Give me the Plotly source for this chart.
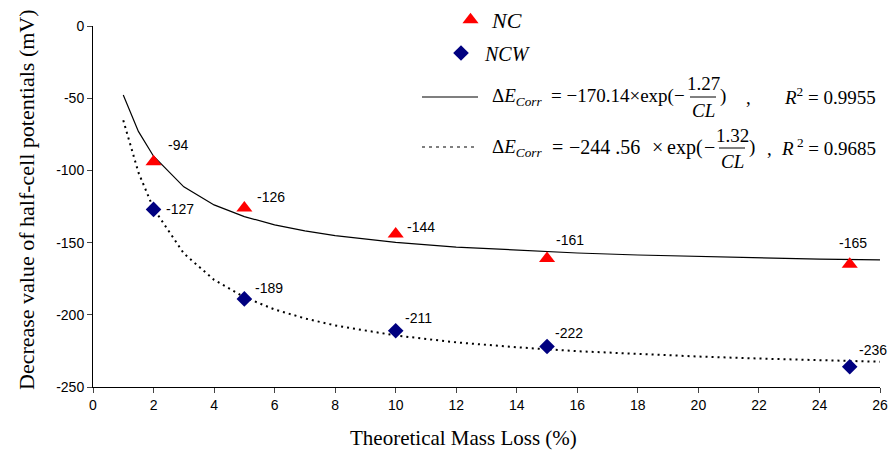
import plotly.graph_objects as go

# ---- data ----
mass_loss = [2, 5, 10, 15, 25]
nc_values = [-94, -126, -144, -161, -165]
ncw_values = [-127, -189, -211, -222, -236]

# trend curves
fit_x = [1, 1.5, 2, 3, 4, 5, 6, 7, 8, 10, 12, 14, 16, 18, 20, 22, 24, 26]
nc_fit = [-47.8, -73.0, -90.2, -111.4, -123.9, -132.0, -137.7, -141.9, -145.2,
          -149.8, -153.1, -155.4, -157.2, -158.6, -159.7, -160.6, -161.4, -162.0]
ncw_fit = [-65.3, -101.4, -126.4, -157.5, -175.8, -187.8, -196.3, -202.5, -207.4,
           -214.3, -219.1, -222.5, -225.2, -227.3, -228.9, -230.3, -231.5, -232.5]

x_ticks = list(range(0, 27, 2))
y_ticks = [0, -50, -100, -150, -200, -250]
y_tick_labels = [str(v) for v in y_ticks]

# ---- layout geometry ----
W, H = 891, 453
ML, MR, MT, MB = 93, 11, 26, 66
PW, PH = W - ML - MR, H - MT - MB


def px(x):
    return (x - ML) / PW


def py(y):
    return (H - MB - y) / PH


SERIF = "Liberation Serif, Times New Roman, serif"
SANS = "Liberation Sans, Arial, sans-serif"

fig = go.Figure()

fig.add_trace(go.Scatter(x=fit_x, y=nc_fit, mode="lines",
                         line=dict(color="black", width=1.2),
                         showlegend=False, hoverinfo="skip"))
fig.add_trace(go.Scatter(x=fit_x, y=ncw_fit, mode="lines",
                         line=dict(color="black", width=2, dash="2px,4px"),
                         showlegend=False, hoverinfo="skip"))

fig.add_trace(go.Scatter(x=mass_loss, y=nc_values, mode="markers", name="<i>NC</i>",
                         marker=dict(symbol="triangle-up", size=14, color="#FF0000"),
                         legend="legend"))
fig.add_trace(go.Scatter(x=mass_loss, y=ncw_values, mode="markers", name="<i>NCW</i>",
                         marker=dict(symbol="diamond", size=12, color="#000080"),
                         legend="legend2"))

annotations = []
# data labels
nc_off = [(24, 17), (27, 11), (25, 7), (23, 18), (3, 21)]
ncw_off = [(26, 0), (25, 11), (23, 13), (22, 14), (23, 17)]
for xs, ys, offs in ((mass_loss, nc_values, nc_off), (mass_loss, ncw_values, ncw_off)):
    for xv, yv, (dx, dy) in zip(xs, ys, offs):
        annotations.append(dict(x=xv, y=yv, xref="x", yref="y", text=str(yv),
                                showarrow=False, xshift=dx, yshift=dy,
                                font=dict(family=SANS, size=14, color="black")))


def ann(x, y, text, size=19, xanchor="left", yanchor="middle"):
    annotations.append(dict(x=px(x), y=py(y), xref="paper", yref="paper", text=text,
                            showarrow=False, xanchor=xanchor, yanchor=yanchor,
                            font=dict(family=SERIF, size=size, color="black")))


# equation 1
ann(490, 97, "Δ<i>E</i><sub><i>Corr</i></sub>")
ann(687, 96, "= −170.14×exp(−", xanchor="right")
ann(703, 83, "1.27", xanchor="center")
ann(703, 110, "<i>CL</i>", xanchor="center")
ann(718, 96, ")")
ann(744, 97, ",")
ann(878, 96, "<i>R</i><sup>2</sup> = 0.9955", xanchor="right")
# equation 2
ann(490, 148, "Δ<i>E</i><sub><i>Corr</i></sub>")
ann(550, 147, "=", size=20)
ann(567, 147, "−244 .56", size=20)
ann(650, 147, "×", size=20)
ann(665, 147, "exp(", size=20)
ann(702, 147, "−", size=20)
ann(732, 135, "1.32", xanchor="center")
ann(732, 162, "<i>CL</i>", xanchor="center")
ann(747, 147, ")")
ann(765, 148, ",")
ann(878, 147, "<i>R</i><sup> 2</sup> = 0.9685", xanchor="right")

# axis titles
ann(463, 438, "Theoretical Mass Loss (%)", size=21, xanchor="center")
annotations.append(dict(x=px(27), y=py(200), xref="paper", yref="paper",
                        text="Decrease value of half-cell potentials (mV)",
                        textangle=-90, showarrow=False, xanchor="center", yanchor="middle",
                        font=dict(family=SERIF, size=22, color="black")))

shapes = [
    dict(type="line", xref="paper", yref="paper", x0=px(422), x1=px(478), y0=py(97), y1=py(97),
         line=dict(color="black", width=1.2)),
    dict(type="line", xref="paper", yref="paper", x0=px(422), x1=px(478), y0=py(147), y1=py(147),
         line=dict(color="black", width=1.2, dash="3px,4px")),
    dict(type="line", xref="paper", yref="paper", x0=px(690), x1=px(716), y0=py(97), y1=py(97),
         line=dict(color="black", width=1)),
    dict(type="line", xref="paper", yref="paper", x0=px(719), x1=px(745), y0=py(148), y1=py(148),
         line=dict(color="black", width=1)),
]

fig.update_layout(
    width=W, height=H,
    margin=dict(l=ML, r=MR, t=MT, b=MB, autoexpand=False),
    paper_bgcolor="white", plot_bgcolor="white",
    annotations=annotations, shapes=shapes,
    legend=dict(x=px(449), y=py(20), xanchor="left", yanchor="middle", itemwidth=33,
                font=dict(family=SERIF, size=22, color="black"),
                bgcolor="rgba(0,0,0,0)"),
    legend2=dict(x=px(437), y=py(53), xanchor="left", yanchor="middle", itemwidth=38,
                 font=dict(family=SERIF, size=20, color="black"),
                 bgcolor="rgba(0,0,0,0)"),
    xaxis=dict(range=[0, 26], tickvals=x_ticks, ticks="outside", ticklen=5,
               showline=True, linecolor="black", linewidth=1, showgrid=False,
               zeroline=False, tickfont=dict(family=SANS, size=14, color="black")),
    yaxis=dict(range=[-250, 0], tickvals=y_ticks, ticktext=y_tick_labels,
               ticks="outside", ticklen=5,
               showline=True, linecolor="black", linewidth=1, showgrid=False,
               zeroline=False, tickfont=dict(family=SANS, size=14, color="black")),
)

fig.write_html("out.html", config={"displayModeBar": False},
               post_script="document.body.style.margin='0px';")
